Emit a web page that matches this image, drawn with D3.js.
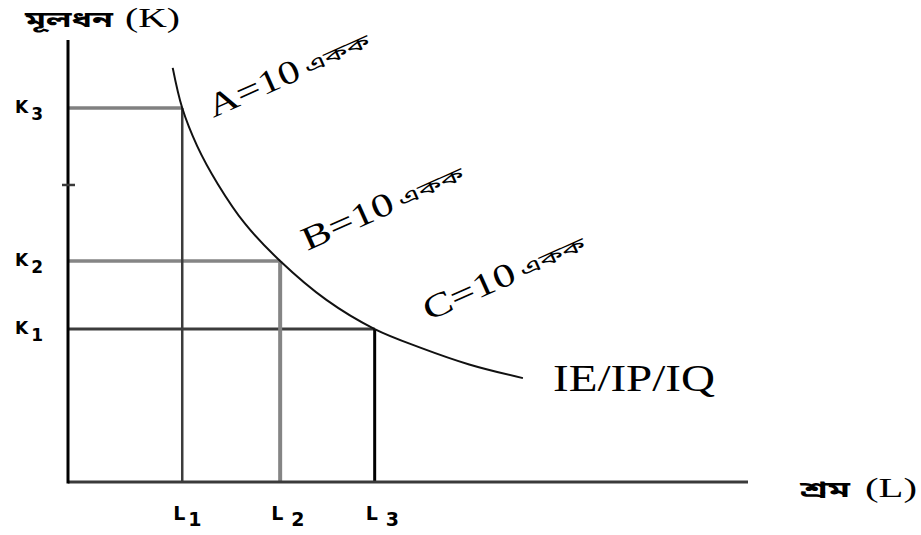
<!DOCTYPE html>
<html>
<head>
<meta charset="utf-8">
<script src="https://cdn.jsdelivr.net/npm/d3@7"></script>
<style>
  html, body { margin: 0; padding: 0; background: #fff; }
  svg { display: block; }
</style>
</head>
<body>
<svg id="chart" width="921" height="535"></svg>
<script>
// ---- data ----
const lLabels = ["1", "2", "3"];
const lValues = [16.8, 31.2, 45.1];
const kLabels = ["3", "2", "1"];
const kValues = [84.6, 50.0, 34.6];
const extraTick = [67.2];
const curveL = [15.4, 16.8, 19.0, 22.0, 26.0, 31.2, 38.0, 45.1, 52.0, 59.0, 66.9];
const curveK = [93.7, 84.6, 76.0, 67.5, 58.5, 50.0, 41.2, 34.6, 30.3, 26.6, 23.5];
const pointNames = ["A", "B", "C"];
const pointText = ["=10", "=10", "=10"];
const unitText = "একক";
const curveLabel = "IE/IP/IQ";
const yTitleBn = "মূলধন";
const yTitleSym = "(K)";
const xTitleBn = "শ্রম";
const xTitleSym = "(L)";

// ---- scales ----
const svg = d3.select("#chart");
const x = d3.scaleLinear().domain([0, 100]).range([68, 748]);
const y = d3.scaleLinear().domain([0, 100]).range([482, 40]);

const bnFont = "'Noto Sans Bengali','Noto Serif Bengali','Lohit Bengali','FreeSerif','Vrinda',sans-serif";
const serif = "'Liberation Serif','Times New Roman',serif";
const sans = "'DejaVu Sans',Verdana,sans-serif";

// line styles for guides
const hStyles = [
  {stroke: "#808080", w: 3.5},
  {stroke: "#858585", w: 3.5},
  {stroke: "#3c3c3c", w: 3}
];
const vStyles = [
  {stroke: "#3c3c3c", w: 2.5},
  {stroke: "#858585", w: 4},
  {stroke: "#000", w: 3}
];

// horizontal guides K
svg.selectAll("line.kguide").data(kValues).enter().append("line")
  .attr("class", "kguide")
  .attr("x1", x(0)).attr("x2", (d, i) => x(lValues[i]))
  .attr("y1", d => y(d)).attr("y2", d => y(d))
  .attr("stroke", (d, i) => hStyles[i].stroke)
  .attr("stroke-width", (d, i) => hStyles[i].w);

// vertical guides L
svg.selectAll("line.lguide").data(lValues).enter().append("line")
  .attr("class", "lguide")
  .attr("x1", d => x(d)).attr("x2", d => x(d))
  .attr("y1", (d, i) => y(kValues[i])).attr("y2", y(0))
  .attr("stroke", (d, i) => vStyles[i].stroke)
  .attr("stroke-width", (d, i) => vStyles[i].w);

// axes
svg.append("line")
  .attr("x1", x(0)).attr("x2", x(100))
  .attr("y1", y(0)).attr("y2", y(0))
  .attr("stroke", "#3a3a3a").attr("stroke-width", 3);
svg.append("line")
  .attr("x1", x(0)).attr("x2", x(0))
  .attr("y1", y(0) + 1.5).attr("y2", y(100))
  .attr("stroke", "#000").attr("stroke-width", 3);
svg.selectAll("line.etick").data(extraTick).enter().append("line")
  .attr("x1", x(0) - 6).attr("x2", x(0) + 7)
  .attr("y1", d => y(d)).attr("y2", d => y(d))
  .attr("stroke", "#3a3a3a").attr("stroke-width", 2.5);

// isoquant curve
const curvePts = curveL.map((l, i) => [l, curveK[i]]);
svg.append("path")
  .datum(curvePts)
  .attr("d", d3.line().x(d => x(d[0])).y(d => y(d[1])).curve(d3.curveCatmullRom))
  .attr("fill", "none").attr("stroke", "#111").attr("stroke-width", 2);

// K labels
const kLab = svg.selectAll("text.klab").data(kValues).enter().append("text")
  .attr("x", 15).attr("y", d => y(d) + 5)
  .attr("font-family", sans).attr("font-weight", "bold").attr("font-size", 17)
  .attr("fill", "#000");
kLab.append("tspan").text("K");
kLab.append("tspan").attr("dx", 3).attr("dy", 7).text((d, i) => kLabels[i]);

// L labels
const lLab = svg.selectAll("text.llab").data(lValues).enter().append("text")
  .attr("x", d => x(d) - 9).attr("y", 520)
  .attr("font-family", sans).attr("font-weight", "bold").attr("font-size", 19)
  .attr("fill", "#000");
lLab.append("tspan").text("L");
lLab.append("tspan").attr("dx", (d, i) => i === 0 ? 3 : 8).attr("dy", 6).text((d, i) => lLabels[i]);

// point labels (rotated)
const anchors = [
  {l: lValues[0], k: kValues[0]},
  {l: lValues[1], k: kValues[1]},
  {l: lValues[2], k: kValues[2]}
];
const labelOffsets = [[31, 10], [27, -10], [54, -8]];
pointNames.forEach((name, i) => {
  const ax = x(anchors[i].l) + labelOffsets[i][0];
  const ay = y(anchors[i].k) + labelOffsets[i][1];
  const g = svg.append("g").attr("transform", `translate(${ax},${ay}) rotate(-24)`);
  g.append("text")
    .attr("x", 0).attr("y", 0)
    .attr("font-family", serif).attr("font-size", 33)
    .attr("textLength", 98).attr("lengthAdjust", "spacingAndGlyphs")
    .text(name + pointText[i]);
  g.append("text")
    .attr("x", 104).attr("y", -2)
    .attr("font-family", bnFont).attr("font-size", 18)
    .attr("textLength", 70).attr("lengthAdjust", "spacingAndGlyphs")
    .text(unitText);
});

// curve label
svg.append("text")
  .attr("x", 553).attr("y", 391)
  .attr("font-family", serif).attr("font-size", 37)
  .attr("textLength", 162).attr("lengthAdjust", "spacingAndGlyphs")
  .text(curveLabel);

// y title
svg.append("text")
  .attr("x", 25).attr("y", 27)
  .attr("font-family", bnFont).attr("font-weight", "bold").attr("font-size", 22)
  .attr("textLength", 88).attr("lengthAdjust", "spacingAndGlyphs")
  .text(yTitleBn);
svg.append("text")
  .attr("x", 125).attr("y", 27)
  .attr("font-family", serif).attr("font-size", 28)
  .attr("textLength", 55).attr("lengthAdjust", "spacingAndGlyphs")
  .text(yTitleSym);

// x title
svg.append("text")
  .attr("x", 800).attr("y", 497)
  .attr("font-family", bnFont).attr("font-weight", "bold").attr("font-size", 22)
  .attr("textLength", 50).attr("lengthAdjust", "spacingAndGlyphs")
  .text(xTitleBn);
svg.append("text")
  .attr("x", 865).attr("y", 497)
  .attr("font-family", serif).attr("font-size", 28)
  .attr("textLength", 52).attr("lengthAdjust", "spacingAndGlyphs")
  .text(xTitleSym);
</script>
</body>
</html>
